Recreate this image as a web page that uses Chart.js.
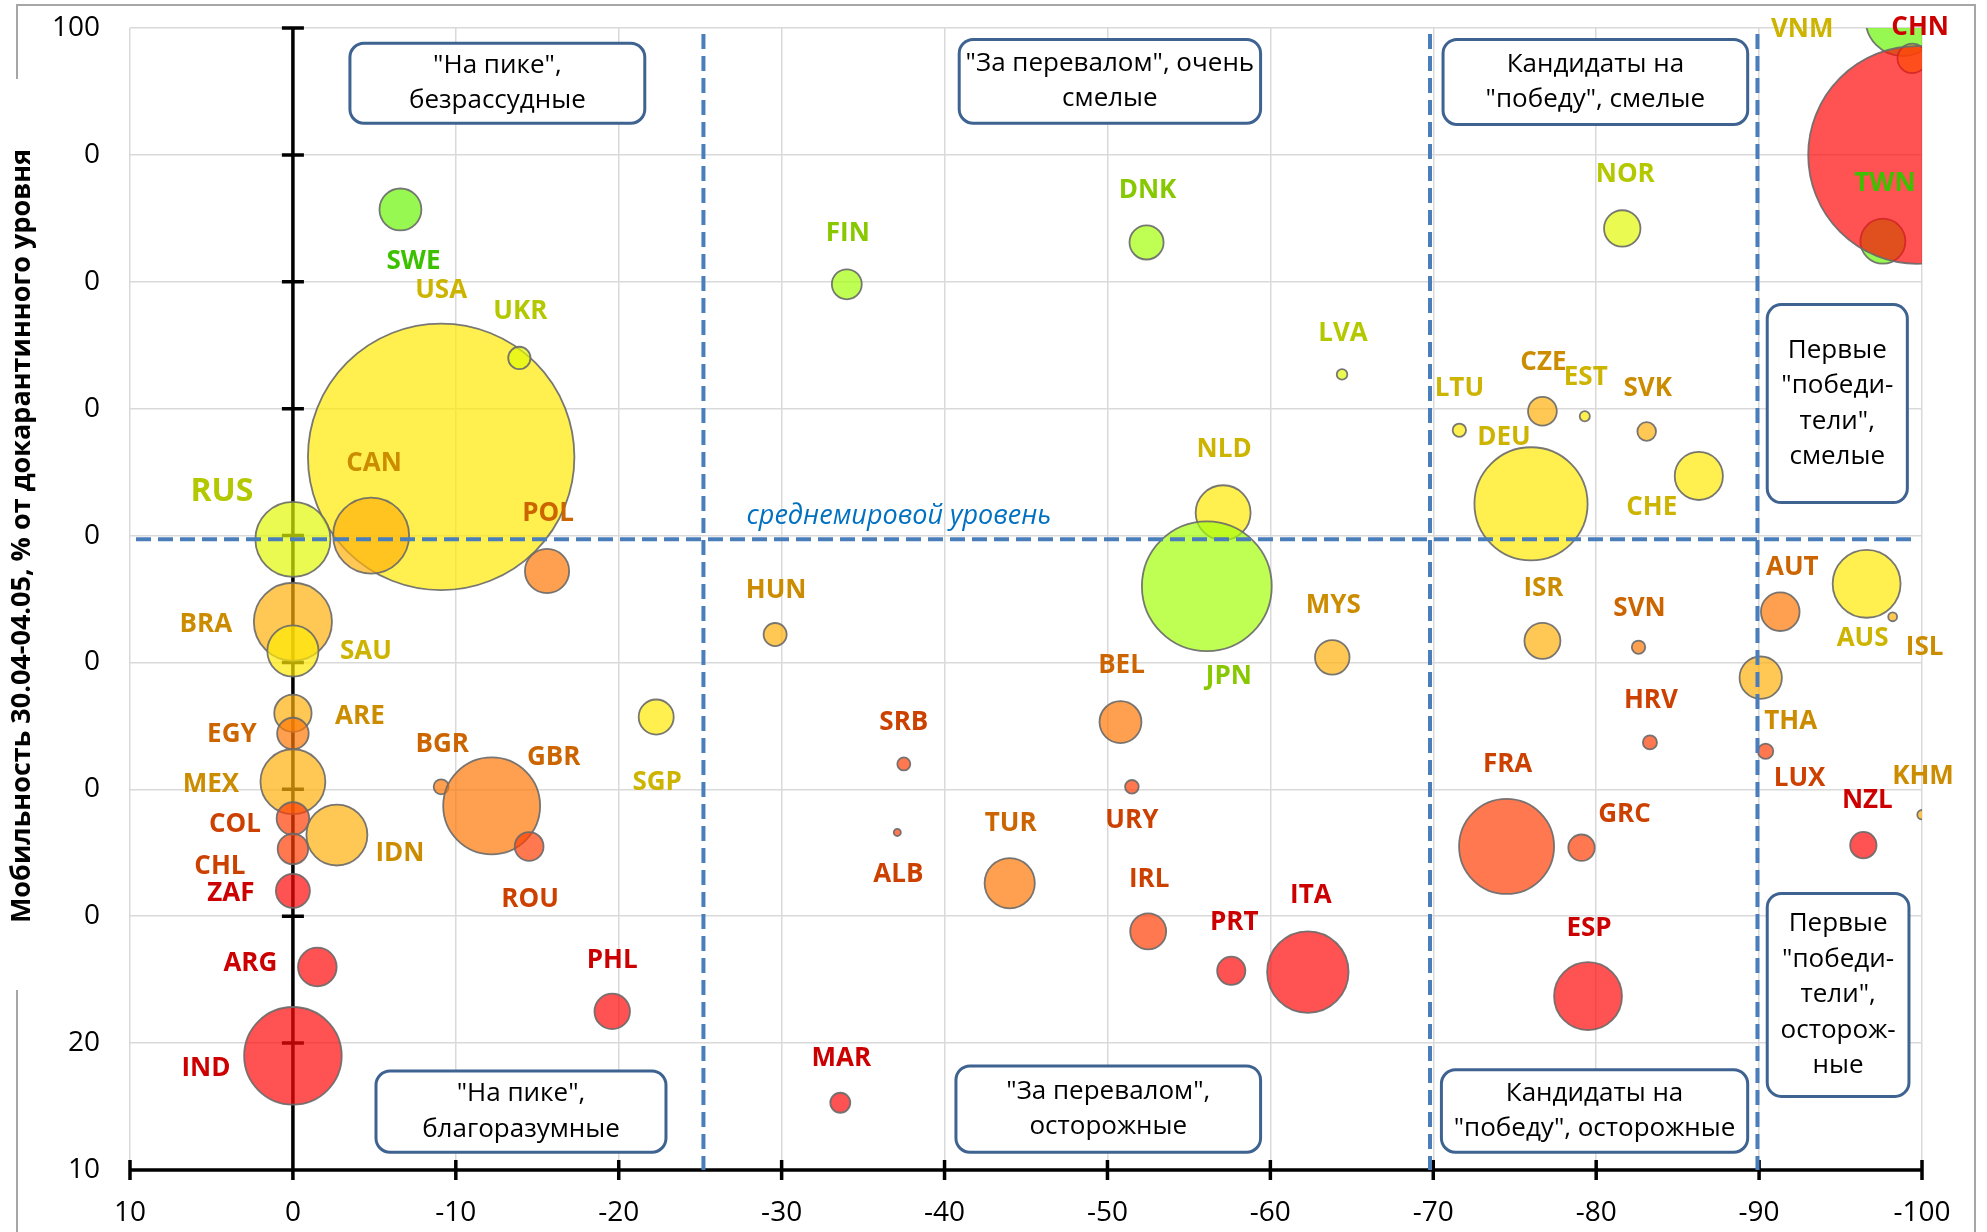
<!DOCTYPE html>
<html>
<head>
<meta charset="utf-8">
<script src="https://cdn.jsdelivr.net/npm/chart.js@4.4.1/dist/chart.umd.min.js"></script>
<style>
  html, body { margin: 0; padding: 0; background: #fff; }
  #wrap { width: 1987px; height: 1232px; }
</style>
</head>
<body>
<div id="wrap"><canvas id="chart" width="1987" height="1232"></canvas></div>
<script>
// country codes, drawn in this order (CHN last so it sits on top)
const countries = ["SWE","USA","UKR","CAN","RUS","POL","BRA","SAU","ARE","EGY","MEX","COL","CHL","ZAF","IDN","BGR","GBR","ROU","SGP","ARG","PHL","IND",
  "FIN","DNK","LVA","NLD","JPN","MYS","HUN","BEL","SRB","URY","ALB","TUR","IRL","PRT","ITA","MAR",
  "NOR","LTU","CZE","EST","SVK","DEU","CHE","ISR","SVN","HRV","FRA","GRC","ESP",
  "AUT","AUS","ISL","THA","LUX","KHM","NZL","KOR","VNM","TWN","CHN"];
// x: change vs peak, y: mobility 30.04-04.05 (% of pre-quarantine level)
const change = [-6.6,-9.1,-13.9,-4.8,0,-15.6,0,0,0,0,0,0,0,0,-2.7,-9.1,-12.2,-14.5,-22.3,-1.5,-19.6,0,
  -34.0,-52.4,-64.4,-57.1,-56.1,-63.8,-29.6,-50.8,-37.5,-51.5,-37.1,-44.0,-52.5,-57.6,-62.3,-33.6,
  -81.6,-71.6,-76.7,-79.3,-83.1,-76.0,-86.3,-76.7,-82.6,-83.3,-74.5,-79.1,-79.5,
  -91.3,-96.6,-98.2,-90.1,-90.4,-100,-96.4,-98.8,-99.4,-97.6,-99.7];
const mobility = [85.7,66.2,74.0,60.0,59.7,57.2,53.2,50.9,46.0,44.4,40.6,37.7,35.3,32.0,36.4,40.2,38.7,35.5,45.7,26.0,22.5,19.0,
  79.8,83.1,72.7,61.8,56.0,50.4,52.2,45.3,42.0,40.2,36.6,32.6,28.8,25.7,25.6,15.3,
  84.2,68.3,69.8,69.4,68.2,62.5,64.7,51.7,51.2,43.7,35.5,35.4,23.7,
  54.0,56.2,53.6,48.8,43.0,38.0,35.6,100.7,97.6,83.2,90.0];
// bubble size: GDP, trillion USD
const gdp = [0.53,21.4,0.15,1.74,1.70,0.59,1.84,0.79,0.42,0.30,1.27,0.32,0.28,0.35,1.12,0.068,2.83,0.25,0.37,0.45,0.38,2.87,
  0.27,0.35,0.034,0.91,5.08,0.36,0.16,0.53,0.051,0.056,0.015,0.76,0.39,0.24,2.0,0.12,
  0.40,0.054,0.25,0.031,0.105,3.86,0.70,0.39,0.054,0.060,2.72,0.21,1.39,
  0.45,1.39,0.024,0.54,0.071,0.027,0.21,1.64,0.26,0.61,14.3];
// colour class 0 (green) .. 7 (red)
const group = [0,3,2,4,2,5,4,3,4,5,4,6,6,7,4,5,5,6,3,7,7,7,
  1,1,2,3,1,4,4,5,6,6,6,5,6,7,7,7,
  2,3,4,3,4,3,3,4,5,6,6,6,7,
  5,3,4,4,6,4,7,0,3,0,7];
const yTickValues = [10,20,30,40,50,60,70,80,90,100];
const yTickLabels = ["10","20","0","0","0","0","0","0","0","100"];
const splitsX = [-25.2, -69.8, -89.9];
const worldLevel = 59.7;

const fills = ["rgba(105,245,5,0.7)","rgba(164,255,12,0.7)","rgba(226,248,5,0.7)","rgba(255,234,5,0.7)",
  "rgba(255,176,12,0.7)","rgba(255,119,5,0.7)","rgba(255,62,5,0.7)","rgba(255,8,8,0.7)"];
const textColors = ["#3cc000","#88c800","#b4c800","#ccb400","#cc8c00","#cc6400","#cc4000","#cc0000"];
const SIZE_K = 28.8;

// label offsets from bubble centre, px
const labelPos = {
  SWE:[13,52], USA:[0,-166], UKR:[1,-46], CAN:[3,-72], RUS:[-71,-47], POL:[1,-57], BRA:[-87,3], SAU:[73,1],
  ARE:[67,3], EGY:[-61,1], MEX:[-82,3], COL:[-58,6], CHL:[-73,18], ZAF:[-62,3], IDN:[63,19], BGR:[1,-42],
  GBR:[62,-48], ROU:[1,53], SGP:[1,66], ARG:[-67,-3], PHL:[0,-51], IND:[-87,13], FIN:[1,-51], DNK:[1,-52],
  LVA:[1,-41], NLD:[1,-63], JPN:[22,90], MYS:[1,-52], HUN:[1,-44], BEL:[1,-56], SRB:[0,-41], URY:[0,34],
  ALB:[1,42], TUR:[1,-60], IRL:[1,-52], PRT:[3,-48], ITA:[3,-76], MAR:[1,-44], NOR:[3,-54], LTU:[0,-42],
  CZE:[1,-49], EST:[1,-39], SVK:[1,-43], DEU:[-27,-66], CHE:[-47,32], ISR:[1,-52], SVN:[1,-39], HRV:[1,-42],
  FRA:[1,-82], GRC:[43,-33], ESP:[1,-68], AUT:[12,-44], AUS:[-4,55], ISL:[32,31], THA:[30,44], LUX:[34,27],
  KHM:[1,-38], NZL:[4,-45], VNM:[-110,-29], CHN:[3,-127], TWN:[2,-58]
};

// quadrant notes, in axis units
const notes = [
  { x1:-3.5, x2:-21.6, y1:98.8, y2:92.5, lines:['"На пике",','безрассудные'] },
  { x1:-40.9, x2:-59.4, y1:99.1, y2:92.5, lines:['"За перевалом", очень','смелые'] },
  { x1:-70.6, x2:-89.3, y1:99.1, y2:92.4, lines:['Кандидаты на','"победу", смелые'] },
  { x1:-90.5, x2:-99.1, y1:78.2, y2:62.6, lines:['Первые','"победи-','тели",','смелые'] },
  { x1:-5.1, x2:-22.9, y1:17.8, y2:11.4, lines:['"На пике",','благоразумные'] },
  { x1:-40.7, x2:-59.4, y1:18.2, y2:11.4, lines:['"За перевалом",','осторожные'] },
  { x1:-70.5, x2:-89.3, y1:17.9, y2:11.4, lines:['Кандидаты на','"победу", осторожные'] },
  { x1:-90.5, x2:-99.2, y1:31.8, y2:15.8, lines:['Первые','"победи-','тели",','осторож-','ные'] }
];

const FONT = "'Open Sans', sans-serif";
Chart.defaults.font.family = FONT;
Chart.defaults.color = "#000";

const points = countries.map((c, i) => ({ x: change[i], y: mobility[i], r: SIZE_K * Math.sqrt(gdp[i]) }));

function roundRect(ctx, x, y, w, h, r) {
  ctx.beginPath();
  ctx.moveTo(x + r, y);
  ctx.arcTo(x + w, y, x + w, y + h, r);
  ctx.arcTo(x + w, y + h, x, y + h, r);
  ctx.arcTo(x, y + h, x, y, r);
  ctx.arcTo(x, y, x + w, y, r);
  ctx.closePath();
}

const decor = {
  id: 'decor',
  beforeDraw(chart) {
    const ctx = chart.ctx;
    ctx.save();
    ctx.fillStyle = '#fff';
    ctx.fillRect(0, 0, chart.width, chart.height);
    ctx.strokeStyle = '#a6a6a6';
    ctx.lineWidth = 2;
    ctx.strokeRect(17, 5, 1958, 1260);
    ctx.fillStyle = '#fff';
    ctx.fillRect(0, 79, 60, 911);
    ctx.restore();
  },
  beforeDatasetsDraw(chart) {
    const ctx = chart.ctx, xs = chart.scales.x, ys = chart.scales.y;
    ctx.save();
    ctx.strokeStyle = '#000';
    ctx.lineWidth = 3.5;
    const x0 = xs.getPixelForValue(0), yb = ys.getPixelForValue(10);
    ctx.beginPath();
    ctx.moveTo(x0, ys.top); ctx.lineTo(x0, yb);
    ctx.moveTo(xs.left, yb); ctx.lineTo(xs.right, yb);
    yTickValues.forEach(v => {
      const p = ys.getPixelForValue(v);
      ctx.moveTo(x0 - 11, p); ctx.lineTo(x0 + 11, p);
    });
    for (let v = 10; v >= -100; v -= 10) {
      const p = xs.getPixelForValue(v);
      ctx.moveTo(p, yb - 10); ctx.lineTo(p, yb + 10);
    }
    ctx.stroke();
    ctx.restore();
  },
  afterDatasetsDraw(chart) {
    const ctx = chart.ctx, xs = chart.scales.x, ys = chart.scales.y;
    ctx.save();
    // dashed split lines
    ctx.strokeStyle = '#4a7ebb';
    ctx.lineWidth = 4;
    ctx.setLineDash([15, 7]);
    const yAvg = ys.getPixelForValue(worldLevel);
    ctx.beginPath();
    ctx.moveTo(xs.left + 6, yAvg); ctx.lineTo(xs.right - 6, yAvg);
    splitsX.forEach(v => {
      const p = xs.getPixelForValue(v);
      ctx.moveTo(p, ys.top + 6); ctx.lineTo(p, ys.bottom);
    });
    ctx.stroke();
    ctx.setLineDash([]);
    ctx.fillStyle = '#0070c0';
    ctx.font = "italic 27px " + FONT;
    ctx.textAlign = 'center';
    ctx.textBaseline = 'middle';
    ctx.fillText('среднемировой уровень', xs.getPixelForValue(-37.2), yAvg - 23);

    // country labels
    const meta = chart.getDatasetMeta(0);
    countries.forEach((c, i) => {
      const off = labelPos[c];
      if (!off) return;
      const el = meta.data[i];
      ctx.fillStyle = textColors[group[i]];
      ctx.font = (c === 'RUS' ? 'bold 32px ' : 'bold 26px ') + FONT;
      ctx.fillText(c, el.x + off[0], el.y + off[1]);
    });

    // quadrant notes
    notes.forEach(n => {
      const l = xs.getPixelForValue(n.x1), r = xs.getPixelForValue(n.x2);
      const t = ys.getPixelForValue(n.y1), b = ys.getPixelForValue(n.y2);
      roundRect(ctx, l, t, r - l, b - t, 14);
      ctx.fillStyle = '#fff';
      ctx.fill();
      ctx.strokeStyle = '#3e6391';
      ctx.lineWidth = 3;
      ctx.stroke();
      ctx.fillStyle = '#000';
      ctx.font = "26px " + FONT;
      const lh = 35.5, cy = (t + b) / 2;
      n.lines.forEach((s, k) => {
        ctx.fillText(s, (l + r) / 2, cy + (k - (n.lines.length - 1) / 2) * lh);
      });
    });
    ctx.restore();
  },
  afterDraw(chart) {
    const ctx = chart.ctx;
    ctx.save();
    ctx.translate(22, 536);
    ctx.rotate(-Math.PI / 2);
    ctx.fillStyle = '#000';
    ctx.font = "bold 27px " + FONT;
    ctx.textAlign = 'center';
    ctx.textBaseline = 'middle';
    ctx.fillText('Мобильность 30.04-04.05, % от докарантинного уровня', 0, 0);
    ctx.restore();
  }
};

new Chart(document.getElementById('chart'), {
  type: 'bubble',
  data: {
    datasets: [{
      data: points,
      backgroundColor: group.map(g => fills[g]),
      borderColor: 'rgba(105,105,105,0.9)',
      borderWidth: 1.8,
      clip: 0
    }]
  },
  options: {
    responsive: false,
    maintainAspectRatio: false,
    devicePixelRatio: 1,
    animation: false,
    events: [],
    layout: { autoPadding: false, padding: { top: 28, right: 65, bottom: 0, left: 0 } },
    plugins: { legend: { display: false }, tooltip: { enabled: false } },
    scales: {
      x: {
        type: 'linear',
        reverse: true,
        min: -100,
        max: 10,
        border: { display: false },
        grid: { color: '#d9d9d9', lineWidth: 1.5, drawTicks: false },
        ticks: { stepSize: 10, padding: 26, font: { size: 28 }, color: '#000', maxRotation: 0 },
        afterFit: s => { s.height = 62; }
      },
      y: {
        type: 'linear',
        min: 10,
        max: 100,
        border: { display: false },
        grid: { color: '#d9d9d9', lineWidth: 1.5, drawTicks: true, tickLength: 27, tickColor: 'rgba(0,0,0,0)' },
        ticks: {
          stepSize: 10,
          padding: 3,
          font: { size: 28 },
          color: '#000',
          callback: v => yTickLabels[yTickValues.indexOf(v)]
        },
        afterFit: s => { s.width = 130; }
      }
    }
  },
  plugins: [decor]
});
</script>
</body>
</html>
